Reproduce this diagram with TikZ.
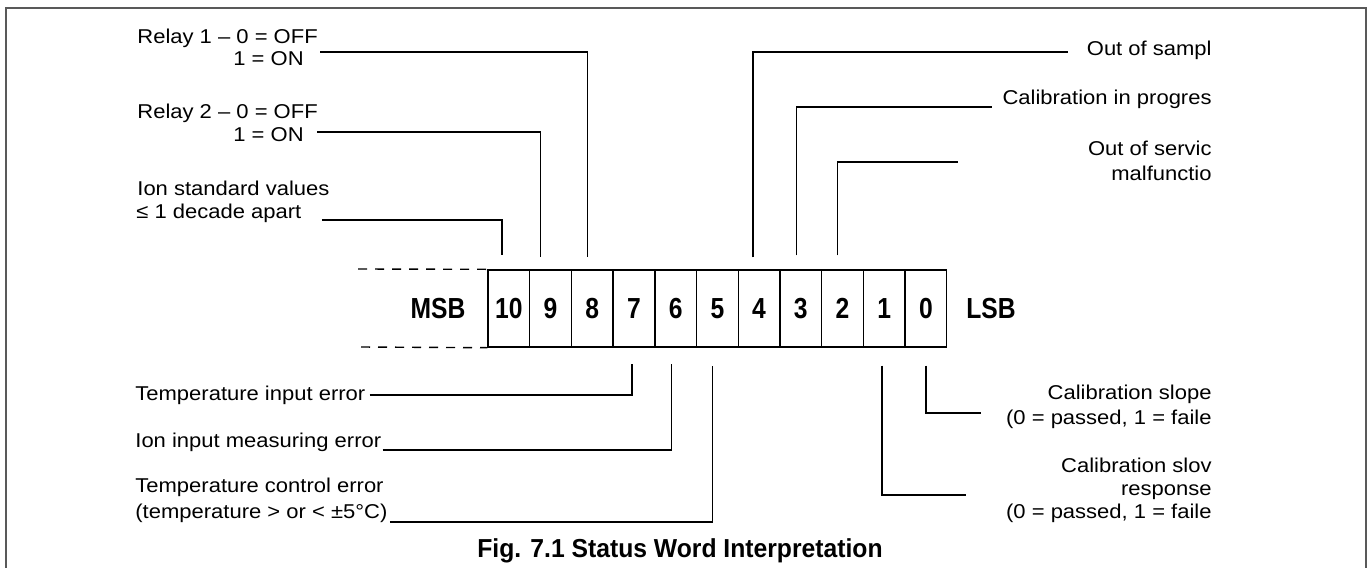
\documentclass[tikz,border=0pt]{standalone}
\usepackage{fontspec}
\setmainfont{Liberation Sans}[FakeStretch=1.1]
\newfontfamily\bitfont{Liberation Sans}[FakeStretch=0.85]
\newfontfamily\capfont{Liberation Sans}[FakeStretch=0.95]
\usetikzlibrary{calc}

\begin{document}
\begin{tikzpicture}[x=0.5pt,y=-0.5pt,
	lbl/.style={inner sep=0pt,font=\fontsize{10}{11.5}\selectfont},
	bitbox/.style={draw,line width=0.7pt,minimum width=20.85pt,minimum height=38.5pt,inner sep=0pt,font=\bitfont\bfseries\fontsize{14.5}{16}\selectfont},
	bitend/.style={inner sep=0pt,font=\bitfont\bfseries\fontsize{14.5}{16}\selectfont},
	wire/.style={line width=0.7pt},
	dashline/.style={line width=0.7pt,dash pattern=on 4.5pt off 4pt}]
	\useasboundingbox (0,0) rectangle (1372,568);
	\draw[line width=0.9pt,black!65] (6,568) |- (1366,8) -- (1366,568);
	\foreach \b [count=\i from 0] in {10,9,...,0}
		\node[bitbox] (b\b) at ({508.85+41.7*\i},308.5) {\b};
	\node[bitend] (msb) at (438,308.5) {MSB};
	\node[bitend] (lsb) at (991,308.5) {LSB};
	\coordinate (dtop) at (358,269);
	\coordinate (dbot) at (361,347);
	\draw[dashline] (dtop) -- (b10.north west);
	\draw[dashline] (dbot) -- (b10.south west);
	\node[lbl,anchor=base west] (rel1a) at (137,43) {Relay 1 – 0 = OFF};
	\node[lbl,anchor=base west] (rel1b) at (233,65) {1 = ON};
	\node[lbl,anchor=base west] (rel2a) at (137,118) {Relay 2 – 0 = OFF};
	\node[lbl,anchor=base west] (rel2b) at (233,141) {1 = ON};
	\node[lbl,anchor=base west] (ion1) at (137,195) {Ion standard values};
	\node[lbl,anchor=base west] (ion2) at (136,218) {≤ 1 decade apart};
	\node[lbl,anchor=base west] (tie) at (135,400) {Temperature input error};
	\node[lbl,anchor=base west] (iime) at (135,447) {Ion input measuring error};
	\node[lbl,anchor=base west] (tce1) at (135,492) {Temperature control error};
	\node[lbl,anchor=base west] (tce2) at (135,518) {(temperature > or < ±5°C)};
	\node[lbl,anchor=base east] (ots) at (1212,55) {Out of sampl};
	\node[lbl,anchor=base east] (cip) at (1212,104) {Calibration in progres};
	\node[lbl,anchor=base east] (oos1) at (1212,155) {Out of servic};
	\node[lbl,anchor=base east] (oos2) at (1212,180) {malfunctio};
	\node[lbl,anchor=base east] (cs1) at (1212,399) {Calibration slope};
	\node[lbl,anchor=base east] (cs2) at (1212,424) {(0 = passed, 1 = faile};
	\node[lbl,anchor=base east] (csr1) at (1212,472) {Calibration slov};
	\node[lbl,anchor=base east] (csr2) at (1212,495) {response};
	\node[lbl,anchor=base east] (csr3) at (1212,518) {(0 = passed, 1 = faile};
	\node[inner sep=0pt,font=\capfont\bfseries\fontsize{13}{15}\selectfont] (cap) at (680,551) {Fig. 7.1 Status Word Interpretation};
	\draw[wire] ($(rel1b.base east)+(16,-13)$) -| ([xshift=-2.5pt,yshift=6pt]b8.north);
	\draw[wire] ($(rel2b.base east)+(13,-9)$) -| ([xshift=-5pt,yshift=6pt]b9.north);
	\draw[wire] ($(ion2.base east)+(20,2)$) -| ([xshift=-3.5pt,yshift=7pt]b10.north);
	\draw[wire] ([xshift=-3pt,yshift=6pt]b4.north) |- ($(ots.base west)+(-18,-3)$);
	\draw[wire] ([xshift=-2pt,yshift=7pt]b3.north) |- ($(cip.base west)+(-10,3)$);
	\draw[wire] ([xshift=-2.5pt,yshift=7pt]b2.north) |- ($(oos1.base west)+(-130,7)$);
	\draw[wire] ($(tie.base east)+(4,-5)$) -| ([xshift=-1pt,yshift=-8pt]b7.south);
	\draw[wire] ($(iime.base east)+(1,3)$) -| ([xshift=-2pt,yshift=-8pt]b6.south);
	\draw[wire] ($(tce2.base east)+(2,4)$) -| ([xshift=-2.5pt,yshift=-9pt]b5.south);
	\draw[wire] ([xshift=-1pt,yshift=-9pt]b1.south) |- ($(csr3.base west)+(-40,-23)$);
	\draw[wire] ([yshift=-9pt]b0.south) |- ($(cs2.base west)+(-25,-11)$);
\end{tikzpicture}
\end{document}
